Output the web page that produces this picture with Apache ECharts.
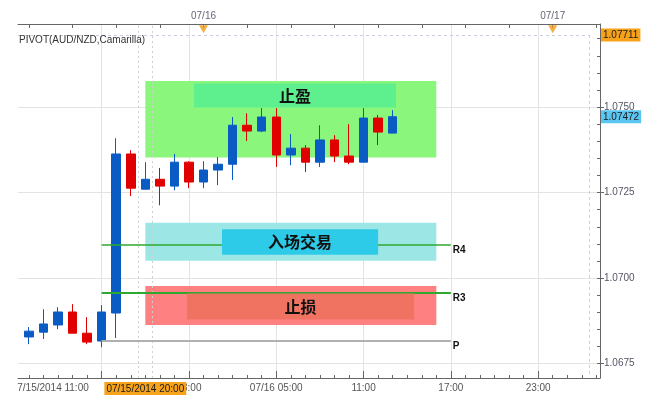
<!DOCTYPE html>
<html><head><meta charset="utf-8">
<script src="https://cdn.jsdelivr.net/npm/echarts@6/dist/echarts.min.js"></script>
<style>html,body{margin:0;padding:0;background:#fff}#c{width:645px;height:402px}</style>
</head><body><div id="c"></div>
<script>
// ---- data ----
const times = ['07/15 12:00','07/15 13:00','07/15 14:00','07/15 15:00','07/15 16:00','07/15 17:00','07/15 18:00','07/15 19:00','07/15 20:00','07/15 21:00','07/15 22:00','07/15 23:00','07/16 00:00','07/16 01:00','07/16 02:00','07/16 03:00','07/16 04:00','07/16 05:00','07/16 06:00','07/16 07:00','07/16 08:00','07/16 09:00','07/16 10:00','07/16 11:00','07/16 12:00','07/16 13:00'];
const opens  = [1.06828,1.06842,1.06863,1.06901,1.06839,1.06816,1.06898,1.07363,1.07260,1.07289,1.07269,1.07339,1.07281,1.07316,1.07333,1.07447,1.07430,1.07471,1.07360,1.07380,1.07339,1.07404,1.07357,1.07339,1.07468,1.07424];
const closes = [1.06845,1.06866,1.06901,1.06839,1.06813,1.06901,1.07363,1.07263,1.07289,1.07269,1.07339,1.07281,1.07316,1.07333,1.07447,1.07430,1.07471,1.07360,1.07380,1.07339,1.07404,1.07357,1.07339,1.07468,1.07427,1.07472];
const lows   = [1.06807,1.06822,1.06851,1.06839,1.06807,1.06798,1.06825,1.07240,1.07260,1.07213,1.07257,1.07263,1.07263,1.07272,1.07287,1.07401,1.07427,1.07325,1.07330,1.07310,1.07325,1.07339,1.07333,1.07339,1.07389,1.07424];
const highs  = [1.06857,1.06909,1.06915,1.06924,1.06886,1.06921,1.07409,1.07374,1.07339,1.07322,1.07363,1.07342,1.07342,1.07354,1.07471,1.07482,1.07497,1.07497,1.07421,1.07389,1.07447,1.07418,1.07450,1.07497,1.07477,1.07491];

const pivotNames  = ['R4','R3','P'];
const pivotValues = [1.07097, 1.06958, 1.06816];

const zoneNames   = ['止盈','入场交易','止损'];
const zoneOuterHi = [1.07576, 1.07162, 1.06977];
const zoneOuterLo = [1.07353, 1.07051, 1.06863];
const zoneInnerHi = [1.07569, 1.07143, 1.06955];
const zoneInnerLo = [1.07499, 1.07068, 1.06879];

const bottomLabelPos  = [-0.75, 11, 17, 23, 29, 35];
const bottomLabelText = ['7/15/2014 11:00', '23:00', '07/16 05:00', '11:00', '17:00', '23:00'];
const cursorPos = [8];
const cursorText = ['07/15/2014 20:00'];
const topLabelPos  = [12, 36];
const topLabelText = ['07/16', '07/17'];
const yLabelValues = [1.0675, 1.0700, 1.0725, 1.0750];
const yMinorTicks  = [1.0670,1.0675,1.0680,1.0685,1.0690,1.0695,1.0700,1.0705,1.0710,1.0715,1.0720,1.0725,1.0730,1.0735,1.0740,1.0745,1.0750,1.0755,1.0760,1.0765,1.0770];
const priceTags    = [1.07711, 1.07472];
const hourTicks = Array.from({length: 40}, (_, k) => k);
const threeHourTicks = [0,3,6,9,12,15,18,21,24,27,30,33,36,39];
const sixHourTicks = [5,11,17,23,29,35];

// ---- layout / style constants ----
const X_MIN = -0.75, X_MAX = 39.25;
const Y_MIN = 1.06708, Y_MAX = 1.07743;
const FONT = 'Liberation Sans, Arial, sans-serif';
const CJK = 'Noto Sans CJK SC, sans-serif';
const pivotStyles = [
  {color: '#2fa82f', width: 1.5, type: 'solid'},
  {color: '#2fa82f', width: 2, type: 'solid'},
  {color: '#b0b0b0', width: 2, type: 'solid'}
];

function pick(pos, txt, v) {
  const i = pos.findIndex(p => Math.abs(p - v) < 1e-6);
  return i < 0 ? '' : txt[i];
}

const candleData = times.map((t, k) => [k, opens[k], closes[k], lows[k], highs[k]]);

const baseX = {type: 'value', min: X_MIN, max: X_MAX, gridIndex: 0,
  axisLine: {onZero: false}, splitLine: {show: false}};
const baseY = {type: 'value', min: Y_MIN, max: Y_MAX, gridIndex: 0, position: 'right',
  axisLine: {onZero: false}, splitLine: {show: false}};

const option = {
  animation: false,
  backgroundColor: '#fff',
  title: {text: 'PIVOT(AUD/NZD,Camarilla)', left: 14, top: 30,
    textStyle: {fontSize: 10, fontWeight: 'normal', color: '#333', fontFamily: FONT}},
  grid: {left: 18, right: 45, top: 24, bottom: 24, containLabel: false},
  xAxis: [
    Object.assign({}, baseX, {position: 'bottom',
      axisLine: {onZero: false, show: true, lineStyle: {color: '#666', width: 1}},
      axisTick: {show: true, inside: true, length: 3, customValues: hourTicks, lineStyle: {color: '#666'}},
      axisLabel: {show: true, customValues: bottomLabelPos, margin: 5, showMinLabel: true, showMaxLabel: true,
        color: '#555', fontSize: 10, fontFamily: FONT,
        formatter: v => {
          const s = pick(bottomLabelPos, bottomLabelText, v);
          return Math.abs(v - X_MIN) < 1e-6 ? '{first|' + s + '}' : s;
        },
        rich: {first: {padding: [0, 0, 0, 70], color: '#555', fontSize: 10, fontFamily: FONT}}}}),
    Object.assign({}, baseX, {position: 'top',
      axisLine: {onZero: false, show: true, lineStyle: {color: '#666', width: 1}},
      axisTick: {show: true, inside: true, length: 4, customValues: threeHourTicks, lineStyle: {color: '#666'}},
      axisLabel: {show: true, customValues: topLabelPos, margin: 3, color: '#667', fontSize: 10, fontFamily: FONT,
        formatter: v => pick(topLabelPos, topLabelText, v)}}),
    Object.assign({}, baseX, {position: 'bottom',
      axisLine: {onZero: false, show: false},
      axisTick: {show: true, inside: true, length: 7, customValues: sixHourTicks, lineStyle: {color: '#666'}},
      axisLabel: {show: false},
      splitLine: {show: true, lineStyle: {color: '#e3e3e3', width: 1}}}),
    Object.assign({}, baseX, {position: 'bottom',
      axisLine: {onZero: false, show: false},
      axisTick: {show: false},
      axisLabel: {show: true, customValues: cursorPos, margin: 4,
        formatter: v => '{hl|' + pick(cursorPos, cursorText, v) + '}',
        rich: {hl: {backgroundColor: '#f7a21b', color: '#1a1a1a', padding: [2, 2, 1, 2], fontSize: 10, fontFamily: FONT}}}})
  ],
  yAxis: [
    Object.assign({}, baseY, {
      axisLine: {onZero: false, show: true, lineStyle: {color: '#666', width: 1}},
      axisTick: {show: true, inside: true, length: 3, customValues: yMinorTicks, lineStyle: {color: '#666'}},
      axisLabel: {show: true, customValues: yLabelValues, margin: 4, color: '#555566', fontSize: 10, fontFamily: FONT,
        formatter: v => v.toFixed(4)}}),
    Object.assign({}, baseY, {
      axisLine: {onZero: false, show: false},
      axisTick: {show: true, inside: false, length: 4, customValues: yLabelValues, lineStyle: {color: '#666'}},
      axisLabel: {show: false},
      splitLine: {show: true, lineStyle: {color: '#e3e3e3', width: 1}}}),
    Object.assign({}, baseY, {
      axisLine: {onZero: false, show: false},
      axisTick: {show: false},
      axisLabel: {show: true, customValues: priceTags, margin: 1, fontSize: 10, fontFamily: FONT,
        formatter: v => (Math.abs(v - priceTags[0]) < 1e-7 ? '{o|' : '{b|') + v.toFixed(5) + '}',
        rich: {
          o: {backgroundColor: '#f7a21b', color: '#1a1a1a', padding: [2, 2, 1, 2], fontSize: 10, fontFamily: FONT},
          b: {backgroundColor: '#5cc6f2', color: '#1a1a1a', padding: [2, 2, 1, 2], fontSize: 10, fontFamily: FONT}
        }}})
  ],
  series: [
    {
      type: 'line', data: [], silent: true, xAxisIndex: 0, yAxisIndex: 0,
      markLine: {silent: true, z: 1, symbol: ['none', 'none'], label: {show: false},
        lineStyle: {type: [3, 3], color: '#c9cfdc', width: 1},
        data: [
          [{coord: [X_MIN, priceTags[0]]}, {coord: [38.5, priceTags[0]]}],
          [{coord: [38.5, priceTags[0]]}, {coord: [38.5, 1.06716]}],
          {xAxis: cursorPos[0] - 0.5, lineStyle: {color: '#d0d0d0', type: [2, 3]}},
          {xAxis: cursorPos[0] + 0.5, lineStyle: {color: '#d0d0d0', type: [2, 3]}}
        ]}
    },
    {
      type: 'line', data: [], silent: true, xAxisIndex: 0, yAxisIndex: 0,
      markArea: {silent: true, z: 1,
        data: zoneNames.map((n, i) => [
          {xAxis: 8, yAxis: zoneOuterHi[i], itemStyle: {color: ['rgb(139,246,124)', 'rgb(156,230,230)', 'rgb(255,128,128)'][i], opacity: 1}},
          {xAxis: 28, yAxis: zoneOuterLo[i]}
        ])}
    },
    {
      type: 'candlestick', name: 'AUD/NZD', xAxisIndex: 0, yAxisIndex: 0, z: 2,
      barWidth: 9,
      data: candleData,
      itemStyle: {color: '#0a5bc4', color0: '#e00000', borderColor: '#0a5bc4', borderColor0: '#e00000', borderWidth: 1}
    }
  ].concat(pivotNames.map((n, i) => ({
      type: 'line', data: [], silent: true, xAxisIndex: 0, yAxisIndex: 0,
      markLine: {silent: true, z: 3, symbol: ['none', 'none'],
        lineStyle: pivotStyles[i],
        label: {show: true, position: 'end', distance: 2, formatter: p => '\n' + p.name, color: '#111', fontWeight: 'bold',
          fontSize: 10, lineHeight: 11, fontFamily: FONT},
        data: [[{name: n, coord: [5, pivotValues[i]]}, {coord: [29, pivotValues[i]]}]]}
  }))).concat([
    {
      type: 'line', data: [], silent: true, xAxisIndex: 0, yAxisIndex: 0,
      markArea: {silent: true, z: 4,
        label: {show: true, position: 'inside', color: '#111', fontSize: 16, fontWeight: 'bold', fontFamily: CJK},
        data: zoneNames.map((n, i) => [
          {name: n, xAxis: [11.35, 13.27, 10.87][i], yAxis: zoneInnerHi[i],
            itemStyle: {color: ['rgb(94,240,142)', 'rgb(46,203,232)', 'rgb(240,115,98)'][i], opacity: 1}},
          {xAxis: [25.23, 24, 26.47][i], yAxis: zoneInnerLo[i]}
        ])}
    },
    {
      type: 'scatter', xAxisIndex: 0, yAxisIndex: 0, z: 6, silent: true,
      symbol: 'triangle', symbolRotate: 180, symbolSize: [9, 8],
      itemStyle: {color: '#f29a16'},
      data: topLabelPos.map(p => [p, 1.07728])
    }
  ])
};
const chart = echarts.init(document.getElementById('c'), null, {renderer: 'canvas'});
chart.setOption(option);
</script></body></html>
